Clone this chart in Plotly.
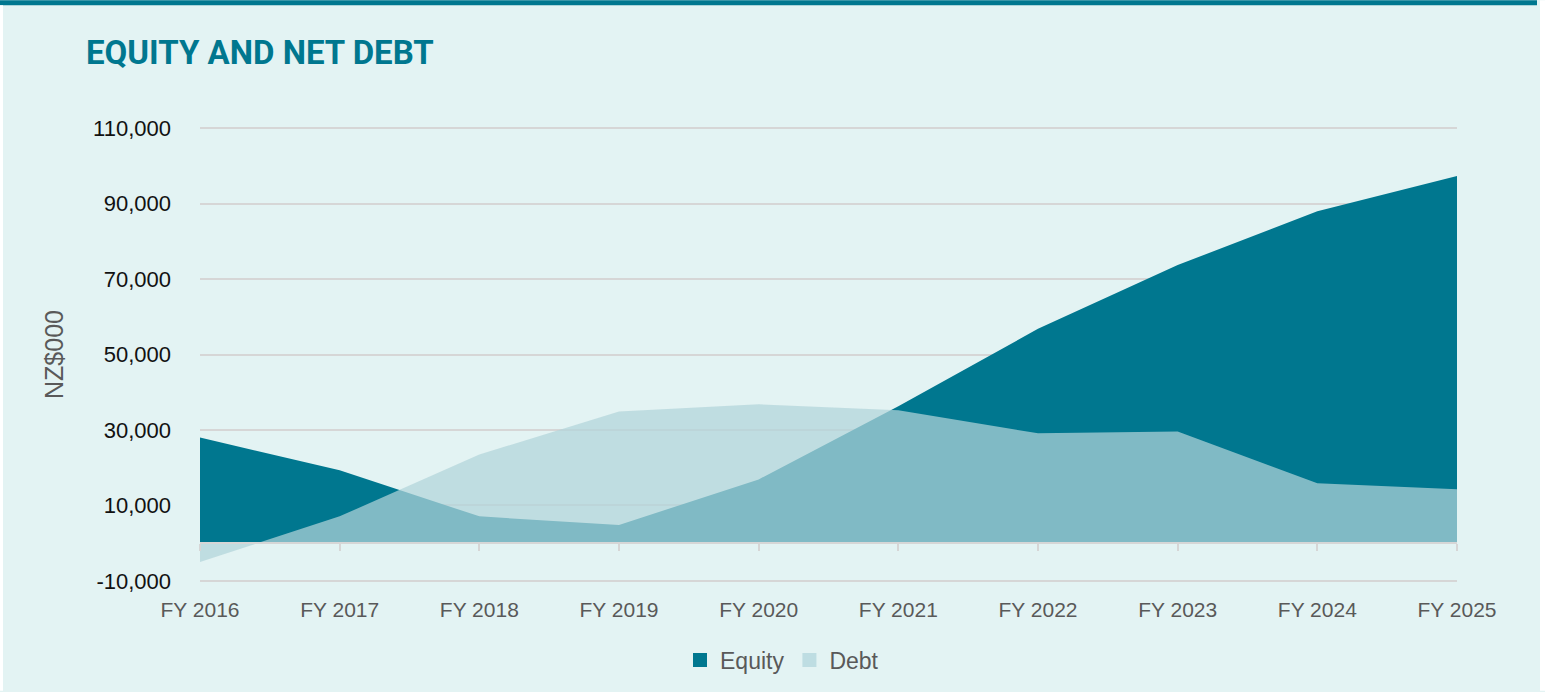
import plotly.graph_objects as go

# --- Data (NZ$000) ---
years = ["FY 2016", "FY 2017", "FY 2018", "FY 2019", "FY 2020",
         "FY 2021", "FY 2022", "FY 2023", "FY 2024", "FY 2025"]
equity = [28000, 19300, 7100, 4800, 16900, 36300, 56800, 73700, 88000, 97300]
debt = [-5000, 7100, 23500, 34900, 36800, 35200, 29100, 29600, 15900, 14300]
y_ticks = [-10000, 10000, 30000, 50000, 70000, 90000, 110000]
y_ticktext = ["-10,000", "10,000", "30,000", "50,000", "70,000", "90,000", "110,000"]

EQUITY_COLOR = "#00778f"
DEBT_COLOR = "rgba(178,212,218,0.72)"
BG = "#e3f3f3"
FONT = "Liberation Sans, Arial, sans-serif"

W, H = 1545, 692
L, R, T, B = 200, 88, 127, 109
PW, PH = W - L - R, H - T - B

fig = go.Figure()

fig.add_trace(go.Scatter(
    x=years, y=equity, mode="lines", fill="tozeroy",
    line=dict(width=0, color=EQUITY_COLOR), fillcolor=EQUITY_COLOR,
    showlegend=False, hoverinfo="x+y",
))
fig.add_trace(go.Scatter(
    x=years, y=debt, mode="lines", fill="tozeroy",
    line=dict(width=0, color=DEBT_COLOR), fillcolor=DEBT_COLOR,
    showlegend=False, hoverinfo="x+y", xaxis="x2",
))

# legend entries with square swatches
fig.add_trace(go.Scatter(x=[None], y=[None], mode="markers", name="Equity",
                         marker=dict(symbol="square", size=14, color=EQUITY_COLOR)))
fig.add_trace(go.Scatter(x=[None], y=[None], mode="markers", name="Debt",
                         marker=dict(symbol="square", size=14, color="#bedde2")))

y_min, y_max = -10300, 110300
zero_pos = (0 - y_min) / (y_max - y_min)

fig.update_layout(
    width=W, height=H,
    paper_bgcolor=BG, plot_bgcolor=BG,
    margin=dict(l=L, r=R, t=T, b=B),
    title=dict(text="<b>EQUITY AND NET DEBT</b>", x=86 / W, xanchor="left",
               y=1 - 52 / H, yanchor="middle",
               font=dict(family="Roboto, sans-serif", size=33, color="#00778f")),
    xaxis=dict(
        type="category", categoryorder="array", categoryarray=years,
        range=[0, len(years) - 1], showgrid=False, zeroline=False,
        showline=False, ticks="", ticklabelstandoff=13,
        tickfont=dict(family=FONT, size=21, color="#595959"),
    ),
    xaxis2=dict(
        type="category", categoryorder="array", categoryarray=years,
        overlaying="x", matches="x", anchor="free", position=zero_pos,
        side="bottom", showgrid=False, zeroline=False, showticklabels=False,
        showline=True, linecolor="#d6d6d6", linewidth=2,
        ticks="outside", ticklen=7, tickwidth=2, tickcolor="#d6d6d6",
    ),
    yaxis=dict(
        range=[y_min, y_max], tickvals=y_ticks, ticktext=y_ticktext,
        showgrid=True, gridcolor="#d6d6d6", gridwidth=2, zeroline=False,
        tickfont=dict(family=FONT, size=22, color="#111111"),
        title=dict(text="NZ$000", font=dict(family=FONT, size=25, color="#595959"),
                   standoff=22),
        ticks="", ticklabelstandoff=28,
    ),
    legend=dict(orientation="h", x=(782 - L) / PW, xanchor="center",
                y=-(659 - 582) / PH, yanchor="middle",
                font=dict(family=FONT, size=23, color="#595959"),
                itemwidth=30, tracegroupgap=0, bgcolor="rgba(0,0,0,0)"),
    shapes=[
        # dark band across the top of the card
        dict(type="rect", xref="paper", yref="paper",
             x0=-L / PW, x1=(1537 - L) / PW,
             y0=1 + (T - 5) / PH, y1=1 + T / PH,
             fillcolor="#00778f", line=dict(width=0), layer="above"),
        # thin white strip on the left edge
        dict(type="rect", xref="paper", yref="paper",
             x0=-L / PW, x1=(3 - L) / PW,
             y0=1 + (T - 5) / PH, y1=-B / PH,
             fillcolor="#ffffff", line=dict(width=0), layer="above"),
        # white strip on the right edge
        dict(type="rect", xref="paper", yref="paper",
             x0=(1540 - L) / PW, x1=(W - L) / PW,
             y0=1 + T / PH, y1=-B / PH,
             fillcolor="#ffffff", line=dict(width=0), layer="above"),
    ],
    hovermode="x",
)

fig.write_html("out.html", config={"displayModeBar": False},
               post_script="document.body.style.margin='0';"
               "window.dispatchEvent(new Event('resize'));")
